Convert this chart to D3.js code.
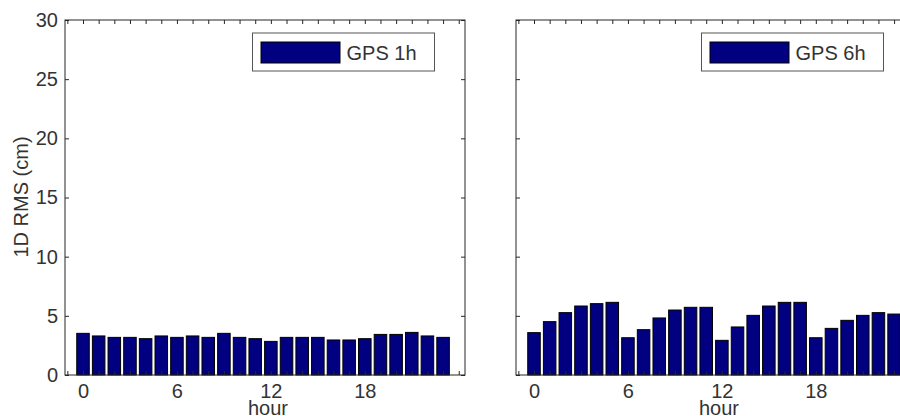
<!DOCTYPE html>
<html>
<head>
<meta charset="utf-8">
<script src="https://cdn.jsdelivr.net/npm/d3@7"></script>
<style>
  html, body { margin: 0; padding: 0; background: #fff; }
  svg { display: block; }
  text { font-family: "Liberation Sans", Arial, sans-serif; fill: #333; }
</style>
</head>
<body>
<svg id="chart" width="900" height="416"></svg>
<script>
// Hour of day (category axis)
const hours = [0, 1, 2, 3, 4, 5, 6, 7, 8, 9, 10, 11, 12, 13, 14, 15, 16, 17, 18, 19, 20, 21, 22, 23];

// 1D RMS (cm) per hour, 1-hour GPS sessions
const gps1h = [3.52, 3.30, 3.18, 3.18, 3.07, 3.30, 3.18, 3.30, 3.18, 3.52, 3.18, 3.07,
               2.84, 3.18, 3.18, 3.18, 2.96, 2.96, 3.07, 3.43, 3.43, 3.60, 3.30, 3.18];

// 1D RMS (cm) per hour, 6-hour GPS sessions
const gps6h = [3.58, 4.51, 5.27, 5.83, 6.03, 6.14, 3.15, 3.83, 4.82, 5.49, 5.72, 5.72,
               2.93, 4.06, 5.04, 5.83, 6.14, 6.14, 3.15, 3.94, 4.62, 5.04, 5.27, 5.15];

const seriesNames = ["GPS 1h", "GPS 6h"];
const xTickLabels = ["0", "6", "12", "18"];
const yTickValues = [0, 5, 10, 15, 20, 25, 30];
const yAxisTitle = "1D RMS (cm)";
const xAxisTitle = "hour";

const svg = d3.select("#chart");
const barColor = "#000080";
const frameColor = "#262626";
const fontSize = 20;

const plotTop = 20, plotBottom = 375;
const y = d3.scaleLinear().domain([0, 30]).range([plotBottom, plotTop]);

function panel(x0, values, name, legendX, showYLabels) {
  const x = d3.scaleLinear().domain([-1.15, 24.4]).range([x0, x0 + 400]);
  const g = svg.append("g");
  const hourTicks = d3.range(-1, 25);

  // bars
  g.selectAll("rect.bar").data(hours).join("rect")
    .attr("class", "bar")
    .attr("x", d => x(d - 0.4))
    .attr("width", x(0.8) - x(0))
    .attr("y", (d, i) => y(values[i]))
    .attr("height", (d, i) => y(0) - y(values[i]))
    .attr("fill", barColor)
    .attr("stroke", "#000")
    .attr("stroke-width", 1);

  // bottom axis: inward ticks every hour, labels every 6 hours
  const xb = g.append("g").attr("transform", `translate(0,${plotBottom})`)
    .call(d3.axisBottom(x).tickValues(hourTicks).tickSize(-4).tickPadding(9)
      .tickFormat(d => xTickLabels.includes(String(d)) ? String(d) : ""));
  // top axis: ticks only
  const xt = g.append("g").attr("transform", `translate(0,${plotTop})`)
    .call(d3.axisTop(x).tickValues(hourTicks).tickSize(-4).tickFormat(""));
  // left axis
  const yl = g.append("g").attr("transform", `translate(${x0},0)`)
    .call(d3.axisLeft(y).tickValues(yTickValues).tickSize(-4).tickPadding(7)
      .tickFormat(d => showYLabels ? String(d) : ""));
  // right axis: ticks only
  const yr = g.append("g").attr("transform", `translate(${x0 + 400},0)`)
    .call(d3.axisRight(y).tickValues(yTickValues).tickSize(-4).tickFormat(""));

  [xb, xt, yl, yr].forEach(a => {
    a.select(".domain").remove();
    a.selectAll(".tick line").attr("stroke", frameColor);
    a.selectAll(".tick text").style("font-size", fontSize + "px").attr("fill", "#333");
  });

  // axes frame
  g.append("rect")
    .attr("x", x0).attr("y", plotTop)
    .attr("width", 400).attr("height", plotBottom - plotTop)
    .attr("fill", "none").attr("stroke", frameColor).attr("stroke-width", 1);

  // x-axis title
  g.append("text")
    .attr("x", x0 + 203).attr("y", 415)
    .attr("text-anchor", "middle")
    .style("font-size", fontSize + "px")
    .text(xAxisTitle);

  // legend
  const lg = g.append("g").attr("transform", `translate(${legendX},33)`);
  lg.append("rect").attr("x", 0).attr("y", 0).attr("width", 182).attr("height", 38)
    .attr("fill", "#fff").attr("stroke", "#555").attr("stroke-width", 1);
  lg.append("rect").attr("x", 8.5).attr("y", 9).attr("width", 79).attr("height", 21)
    .attr("fill", barColor).attr("stroke", "#000").attr("stroke-width", 1);
  lg.append("text").attr("x", 94).attr("y", 26.5)
    .style("font-size", fontSize + "px").text(name);
}

panel(65, gps1h, seriesNames[0], 252.5, true);
panel(516, gps6h, seriesNames[1], 701.5, false);

// y-axis title
svg.append("text")
  .attr("transform", "translate(28,197) rotate(-90)")
  .attr("text-anchor", "middle")
  .style("font-size", fontSize + "px")
  .text(yAxisTitle);
</script>
</body>
</html>
